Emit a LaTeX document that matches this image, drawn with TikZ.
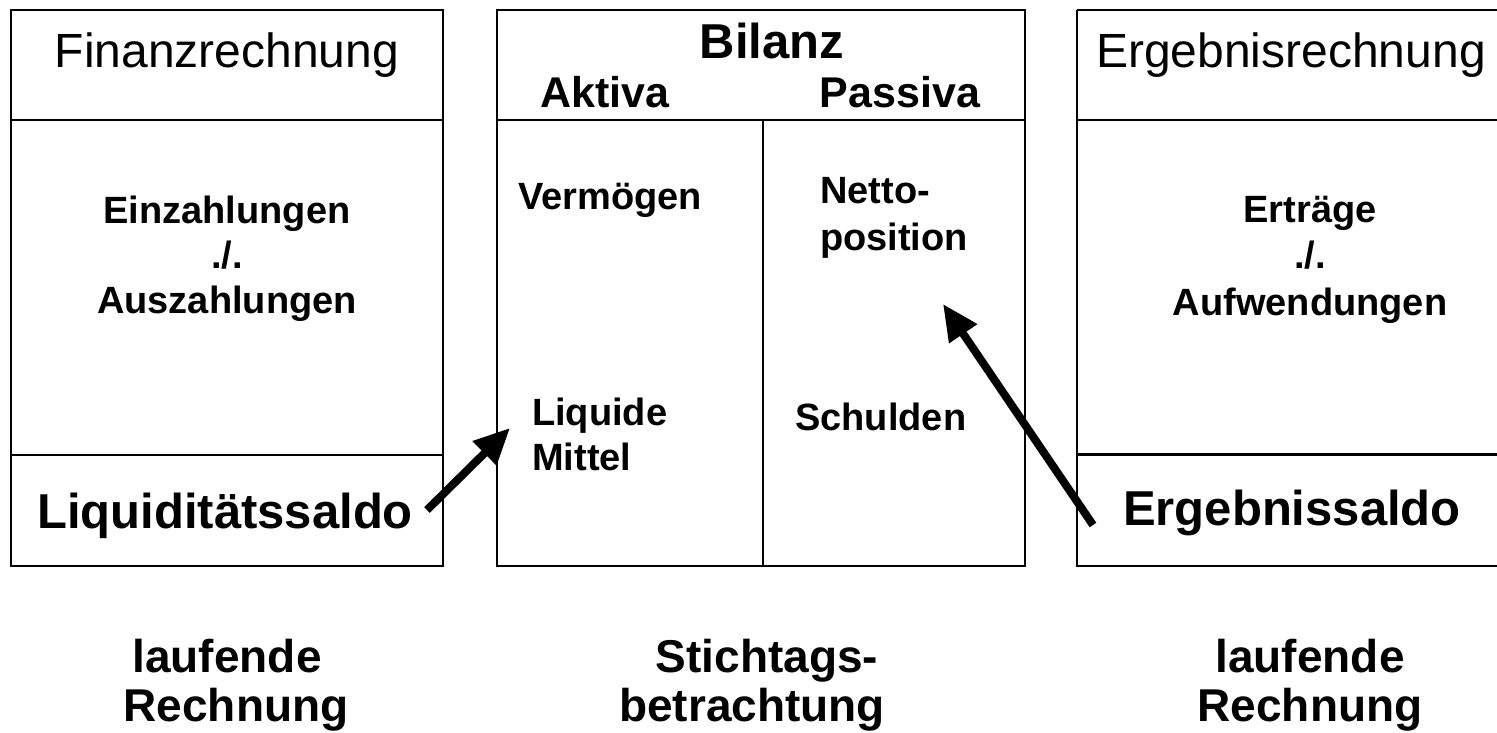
\documentclass[tikz,border=0pt]{standalone}
\usepackage{fontspec}
\setmainfont{Liberation Sans}
\usetikzlibrary{arrows.meta}
\tikzset{
  frame/.style={draw=black, line width=2pt},
  regtxt/.style={font=\fontsize{48}{56}\selectfont, inner sep=0pt, anchor=base},
  bigbold/.style={font=\bfseries\fontsize{49}{56}\selectfont, inner sep=0pt, anchor=base},
  headbold/.style={font=\bfseries\fontsize{43}{50}\selectfont, inner sep=0pt, anchor=base},
  midbold/.style={font=\bfseries\fontsize{38}{44}\selectfont, inner sep=0pt, anchor=base},
  footbold/.style={font=\bfseries\fontsize{46}{52}\selectfont, inner sep=0pt, anchor=base},
  flow/.style={line width=8pt, -{Triangle[length=36pt,width=32pt]}}
}
\begin{document}
\begin{tikzpicture}[x=1pt,y=-1pt]
\useasboundingbox[fill=white] (0,0) rectangle (1497,732);
% left box
\draw[frame] (11,10) rectangle (443,566);
\draw[frame] (11,120) -- (443,120);
\draw[frame] (11,455) -- (443,455);
% middle box
\draw[frame] (497,10) rectangle (1025,566);
\draw[frame] (497,120) -- (1025,120);
\draw[frame] (763,120) -- (763,566);
% right box
\draw[frame] (1077,10) -- (1510,10) (1077,10) -- (1077,566) -- (1510,566);
\draw[frame] (1077,120) -- (1510,120);
\draw[draw=black, line width=3pt] (1077,454.5) -- (1510,454.5);

% left texts
\node[regtxt] (fin) at (227,67) {Finanzrechnung};
\node[midbold] (einz) at (227,223) {Einzahlungen};
\node[midbold] (minus1) at (227,268) {./.};
\node[midbold] (ausz) at (227,313) {Auszahlungen};
\node[bigbold, anchor=base west] (liqs) at (37,528) {Liquiditätssaldo};

% middle texts
\node[bigbold] (bil) at (772,58) {Bilanz};
\node[headbold] (akt) at (605,107) {Aktiva};
\node[headbold] (pas) at (900,107) {Passiva};
\node[midbold, anchor=base west] (verm) at (518,209) {Vermögen};
\node[midbold, anchor=base west] (netto) at (820,203) {Netto-};
\node[midbold, anchor=base west] (posi) at (820,250) {position};
\node[midbold, anchor=base west] (liqd) at (532,425) {Liquide};
\node[midbold, anchor=base west] (mitt) at (532,470) {Mittel};
\node[midbold, anchor=base west] (schu) at (795,430) {Schulden};

% right texts
\node[regtxt] (erg) at (1291,67) {Ergebnisrechnung};
\node[midbold] (ertr) at (1310,222) {Erträge};
\node[midbold] (minus2) at (1310,268) {./.};
\node[midbold] (aufw) at (1310,315) {Aufwendungen};
\node[bigbold] (ergs) at (1292,525) {Ergebnissaldo};

% footer texts
\node[footbold] (lauf1) at (227,672) {laufende};
\node[footbold] (rech1) at (236,721) {Rechnung};
\node[footbold] (stich) at (767,672) {Stichtags-};
\node[footbold] (betr) at (752,721) {betrachtung};
\node[footbold] (lauf2) at (1310,672) {laufende};
\node[footbold] (rech2) at (1310,721) {Rechnung};

% arrows
\coordinate (a1s) at (427,510);
\coordinate (a1e) at (510,428);
\coordinate (a2s) at (1093,525);
\coordinate (a2e) at (943,304);
\draw[flow] (a1s) -- (a1e);
\draw[flow] (a2s) -- (a2e);
\end{tikzpicture}
\end{document}
